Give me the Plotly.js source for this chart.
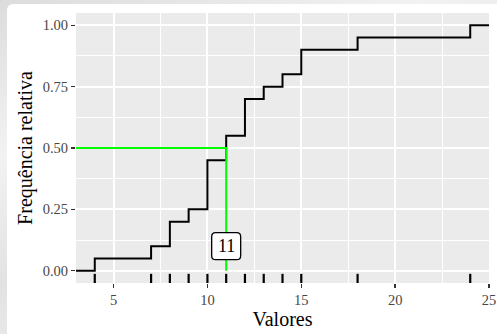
<!DOCTYPE html>
<html>
<head>
<meta charset="utf-8">
<script src="https://cdn.plot.ly/plotly-3.0.1.min.js"></script>
<style>
  html, body { margin: 0; padding: 0; width: 497px; height: 334px; overflow: hidden;
    background: linear-gradient(160deg, #dcdcdc 0%, #f2f2f2 30%, #e2e2e2 55%, #f0f0f0 80%, #e4e4e4 100%); }
  #chart { position: absolute; left: 7px; top: 4px; width: 490px; height: 330px; background: #ffffff; border-top-left-radius: 6px; }
</style>
</head>
<body>
<div id="chart"></div>
<script>
// Observed distinct values and how many times each occurs (n = 20)
const values = [4, 7, 8, 9, 10, 11, 12, 13, 14, 15, 18, 24];
const counts = [1, 1, 2, 1, 4, 2, 3, 1, 1, 2, 1, 1];
const xTickVals = [5, 10, 15, 20, 25];
const yTickVals = [0, 0.25, 0.5, 0.75, 1];
const xRange = [3, 25];
const yRange = [-0.05, 1.05];
const targetProb = 0.5;
const labelY = 0.1;

// empirical cumulative distribution
const n = counts.reduce((a, b) => a + b, 0);
const cum = [];
let run = 0;
counts.forEach(c => { run += c; cum.push(run / n); });

const stepX = [xRange[0]].concat(values, [xRange[1]]);
const stepY = [0].concat(cum, [cum[cum.length - 1]]);

// quantile for target probability
let q = values[0];
for (let i = 0; i < values.length; i++) { if (cum[i] >= targetProb) { q = values[i]; break; } }

const serif = "Liberation Serif, Times New Roman, serif";

const traces = [
  {
    x: stepX, y: stepY, type: 'scatter', mode: 'lines',
    line: { shape: 'hv', color: '#000000', width: 2 },
    hoverinfo: 'skip', showlegend: false
  },
  {
    x: [xRange[0], q, q], y: [targetProb, targetProb, 0], type: 'scatter', mode: 'lines',
    line: { color: '#00FF00', width: 2 },
    hoverinfo: 'skip', showlegend: false
  }
];

const shapes = values.map(v => ({
  type: 'line', xref: 'x', yref: 'y domain', x0: v, x1: v, y0: 0, y1: 0.034,
  line: { color: '#000000', width: 2.2 }, layer: 'above'
}));

// rounded label box around the quantile label (pixel-sized, anchored at data point)
const w = 14.5, h = 13.5, r = 4;
shapes.push({
  type: 'path', xref: 'x', yref: 'y', xsizemode: 'pixel', ysizemode: 'pixel',
  xanchor: q, yanchor: labelY,
  path: `M ${-w + r} ${-h} L ${w - r} ${-h} Q ${w} ${-h} ${w} ${-h + r} L ${w} ${h - r} Q ${w} ${h} ${w - r} ${h} ` +
        `L ${-w + r} ${h} Q ${-w} ${h} ${-w} ${h - r} L ${-w} ${-h + r} Q ${-w} ${-h} ${-w + r} ${-h} Z`,
  fillcolor: '#ffffff', line: { color: '#000000', width: 1.3 }, layer: 'above'
});

const layout = {
  width: 490, height: 330,
  margin: { l: 69, r: 8, t: 9, b: 51, pad: 0 },
  paper_bgcolor: 'rgba(0,0,0,0)',
  plot_bgcolor: '#EBEBEB',
  font: { family: serif, color: '#000000' },
  showlegend: false,
  xaxis: {
    range: xRange, tickvals: xTickVals, ticktext: xTickVals.map(String),
    showgrid: true, gridcolor: '#FFFFFF', gridwidth: 1.9,
    minor: { dtick: 2.5, tick0: 0, showgrid: true, gridcolor: '#FFFFFF', gridwidth: 1 },
    zeroline: false, showline: false,
    ticks: 'outside', ticklen: 4, tickwidth: 1.3, tickcolor: '#333333',
    tickfont: { family: serif, size: 14.5, color: '#474747' },
    title: { text: 'Valores', font: { family: serif, size: 20, color: '#000000' }, standoff: 1 },
    fixedrange: true
  },
  yaxis: {
    range: yRange, tickvals: yTickVals, ticktext: yTickVals.map(v => v.toFixed(2)),
    showgrid: true, gridcolor: '#FFFFFF', gridwidth: 1.9,
    minor: { dtick: 0.125, tick0: 0, showgrid: true, gridcolor: '#FFFFFF', gridwidth: 1 },
    zeroline: false, showline: false,
    ticks: 'outside', ticklen: 4, tickwidth: 1.3, tickcolor: '#333333',
    tickfont: { family: serif, size: 14.5, color: '#474747' },
    title: { text: 'Frequência relativa', font: { family: serif, size: 20, color: '#000000' }, standoff: 4 },
    fixedrange: true
  },
  shapes: shapes,
  annotations: [{
    x: q, y: labelY, xref: 'x', yref: 'y', text: String(q), showarrow: false,
    font: { family: serif, size: 18, color: '#000000' },
    xanchor: 'center', yanchor: 'middle'
  }]
};

Plotly.newPlot('chart', traces, layout, { displayModeBar: false, staticPlot: true });
</script>
</body>
</html>
